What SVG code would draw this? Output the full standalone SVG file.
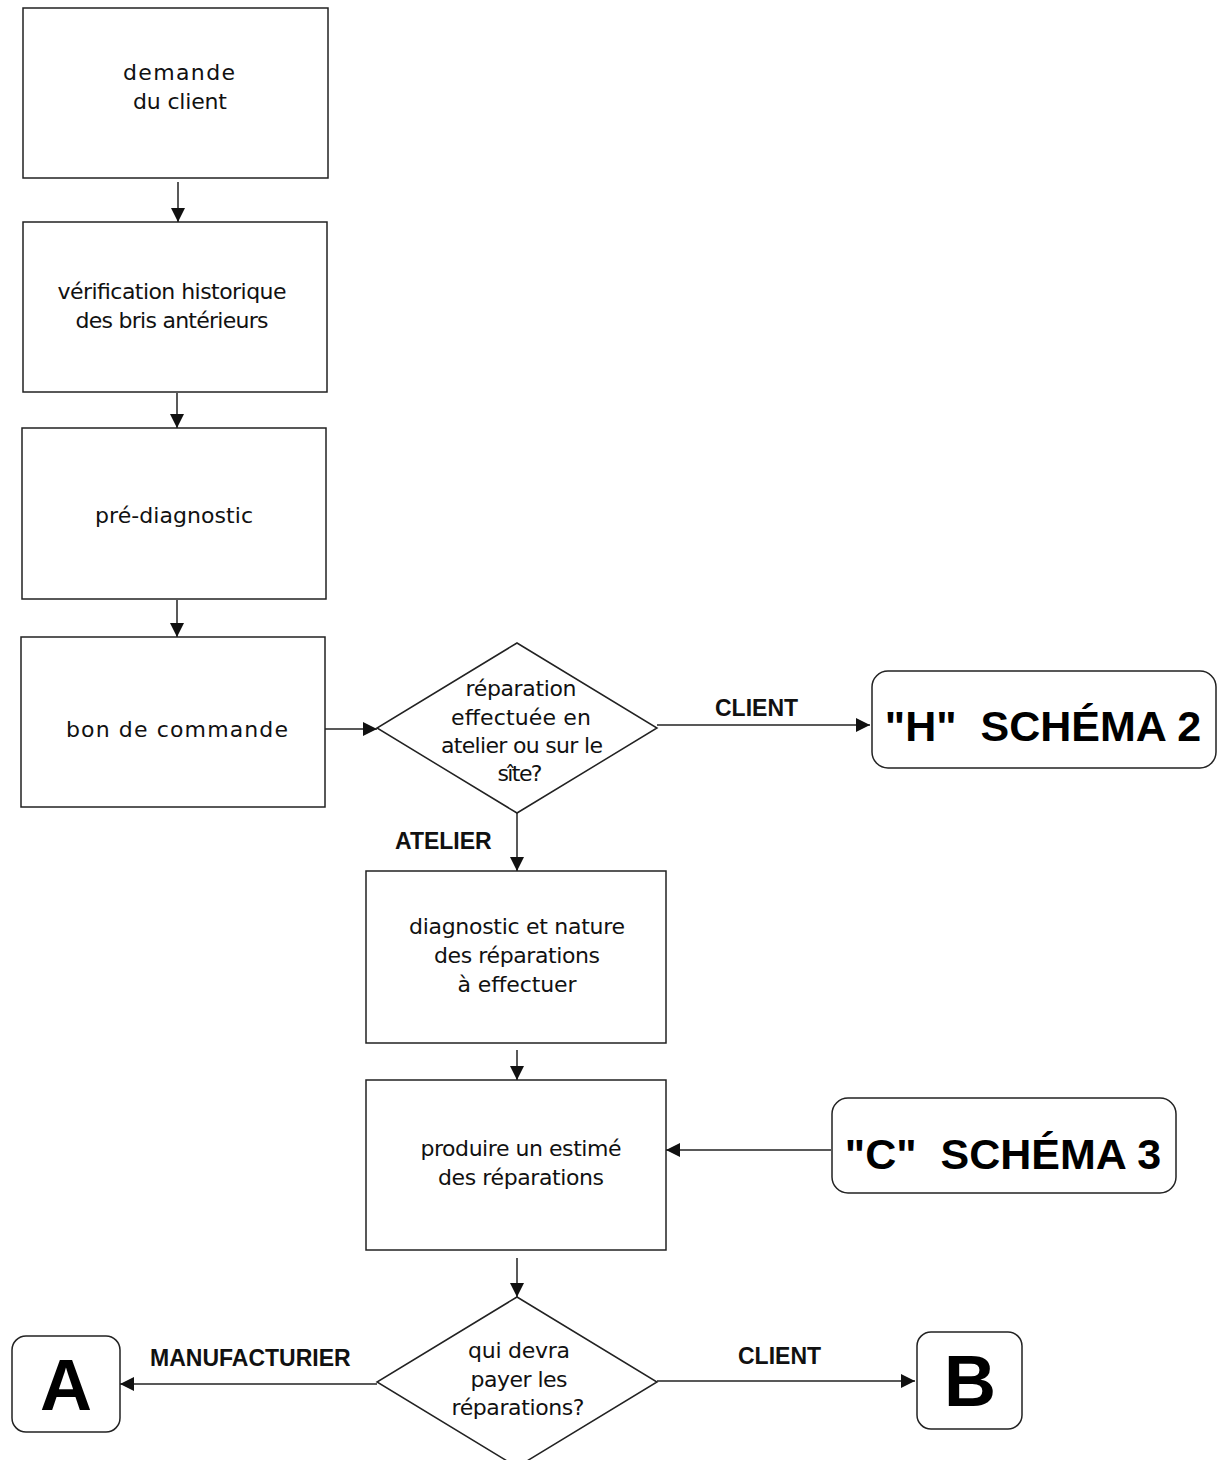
<svg xmlns="http://www.w3.org/2000/svg" width="1217" height="1460" viewBox="0 0 1217 1460">
  <defs>
    <marker id="arrow" viewBox="0 0 10 10" refX="10" refY="5" markerWidth="14" markerHeight="14" markerUnits="userSpaceOnUse" orient="auto">
      <path d="M0,0 L10,5 L0,10 Z" fill="#111"/>
    </marker>
    <style>
      .box { fill: #fff; stroke: #222; stroke-width: 1.5; }
      .txt { font-family: "DejaVu Sans", "Liberation Sans", sans-serif; font-size: 22px; fill: #111; text-anchor: middle; }
      .lbl { font-family: "Liberation Sans", Arial, sans-serif; font-size: 23px; font-weight: bold; fill: #111; }
      .big { font-family: "Liberation Sans", Arial, sans-serif; font-weight: bold; fill: #000; text-anchor: middle; white-space: pre; }
      .edge { fill: none; stroke: #222; stroke-width: 1.5; marker-end: url(#arrow); }
    </style>
  </defs>
  <rect width="1217" height="1460" fill="#fff"/>

  <g id="demande">
    <rect class="box" x="23" y="8" width="305" height="170"/>
    <text class="txt" x="179" y="80" textLength="112" lengthAdjust="spacing">demande</text>
    <text class="txt" x="180" y="109" textLength="94" lengthAdjust="spacing">du client</text>
  </g>
  <g id="verification">
    <rect class="box" x="23" y="222" width="304" height="170"/>
    <text class="txt" x="172" y="299" textLength="229" lengthAdjust="spacing">vérification historique</text>
    <text class="txt" x="172" y="328" textLength="193" lengthAdjust="spacing">des bris antérieurs</text>
  </g>
  <g id="prediagnostic">
    <rect class="box" x="22" y="428" width="304" height="171"/>
    <text class="txt" x="174" y="523" textLength="158" lengthAdjust="spacing">pré-diagnostic</text>
  </g>
  <g id="commande">
    <rect class="box" x="21" y="637" width="304" height="170"/>
    <text class="txt" x="177" y="737" textLength="222" lengthAdjust="spacing">bon de commande</text>
  </g>
  <g id="decision-lieu">
    <polygon class="box" points="517,643 657,728 517,813 377,728"/>
    <text class="txt" x="521" y="696" textLength="111" lengthAdjust="spacing">réparation</text>
    <text class="txt" x="521" y="725" textLength="140" lengthAdjust="spacing">effectuée en</text>
    <text class="txt" x="522" y="753" textLength="162" lengthAdjust="spacing">atelier ou sur le</text>
    <text class="txt" x="520" y="781" textLength="45" lengthAdjust="spacing">sîte?</text>
  </g>
  <g id="schema-h">
    <rect class="box" x="872" y="671" width="344" height="97" rx="16"/>
    <text class="big" x="1043" y="741" font-size="43" xml:space="preserve">"H"  SCHÉMA 2</text>
  </g>
  <g id="diagnostic">
    <rect class="box" x="366" y="871" width="300" height="172"/>
    <text class="txt" x="517" y="934" textLength="216" lengthAdjust="spacing">diagnostic et nature</text>
    <text class="txt" x="517" y="963" textLength="166" lengthAdjust="spacing">des réparations</text>
    <text class="txt" x="517" y="992" textLength="119" lengthAdjust="spacing">à effectuer</text>
  </g>
  <g id="estime">
    <rect class="box" x="366" y="1080" width="300" height="170"/>
    <text class="txt" x="521" y="1156" textLength="201" lengthAdjust="spacing">produire un estimé</text>
    <text class="txt" x="521" y="1185" textLength="166" lengthAdjust="spacing">des réparations</text>
  </g>
  <g id="schema-c">
    <rect class="box" x="832" y="1098" width="344" height="95" rx="16"/>
    <text class="big" x="1003" y="1169" font-size="43" xml:space="preserve">"C"  SCHÉMA 3</text>
  </g>
  <g id="decision-paiement">
    <polygon class="box" points="517,1297 657,1382 517,1467 377,1382"/>
    <text class="txt" x="519" y="1358" textLength="102" lengthAdjust="spacing">qui devra</text>
    <text class="txt" x="519" y="1387" textLength="97" lengthAdjust="spacing">payer les</text>
    <text class="txt" x="518" y="1415" textLength="133" lengthAdjust="spacing">réparations?</text>
  </g>
  <g id="A">
    <rect class="box" x="12" y="1336" width="108" height="96" rx="14"/>
    <text class="big" x="66" y="1410" font-size="72">A</text>
  </g>
  <g id="B">
    <rect class="box" x="917" y="1332" width="105" height="97" rx="14"/>
    <text class="big" x="970" y="1406" font-size="72">B</text>
  </g>

  <g id="connectors">
    <line class="edge" x1="178" y1="182" x2="178" y2="222"/>
    <line class="edge" x1="177" y1="393" x2="177" y2="428"/>
    <line class="edge" x1="177" y1="600" x2="177" y2="637"/>
    <line class="edge" x1="325" y1="729" x2="377" y2="729"/>
    <line class="edge" x1="657" y1="725" x2="870" y2="725"/>
    <line class="edge" x1="517" y1="813" x2="517" y2="871"/>
    <line class="edge" x1="517" y1="1050" x2="517" y2="1080"/>
    <line class="edge" x1="831" y1="1150" x2="666" y2="1150"/>
    <line class="edge" x1="517" y1="1258" x2="517" y2="1297"/>
    <line class="edge" x1="377" y1="1384" x2="120" y2="1384"/>
    <line class="edge" x1="657" y1="1381" x2="915" y2="1381"/>
    <text class="lbl" x="715" y="716">CLIENT</text>
    <text class="lbl" x="395" y="849">ATELIER</text>
    <text class="lbl" x="150" y="1366">MANUFACTURIER</text>
    <text class="lbl" x="738" y="1364">CLIENT</text>
  </g>
</svg>
